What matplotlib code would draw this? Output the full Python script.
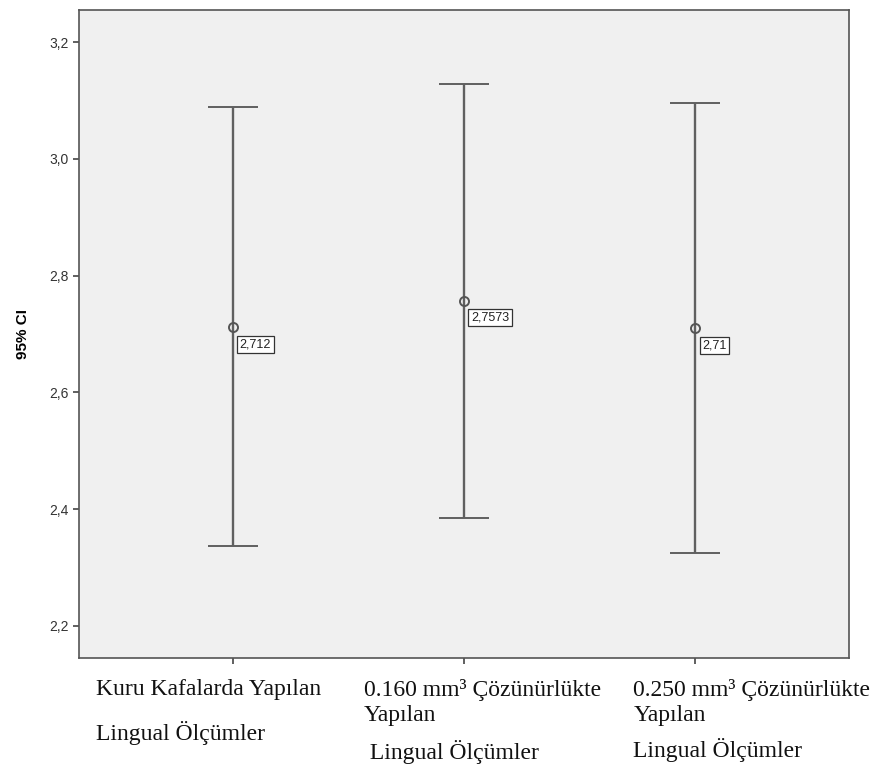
import numpy as np
import matplotlib
matplotlib.use("Agg")
import matplotlib.pyplot as plt
from matplotlib.transforms import blended_transform_factory, offset_copy

# Veriler (ortalama ve %95 GA sınırları)
gruplar = [
    ["Kuru Kafalarda Yapılan", "Lingual Ölçümler"],
    ["0.160 mm³ Çözünürlükte", "Yapılan", " Lingual Ölçümler"],
    ["0.250 mm³ Çözünürlükte", "Yapılan", "Lingual Ölçümler"],
]
ortalama = [2.712, 2.7573, 2.71]
etiketler = ["2,712", "2,7573", "2,71"]
alt_sinir = [2.337, 2.385, 2.325]
ust_sinir = [3.088, 3.129, 3.095]
y_ticks = [2.2, 2.4, 2.6, 2.8, 3.0, 3.2]
y_tick_labels = ["2,2", "2,4", "2,6", "2,8", "3,0", "3,2"]

fig = plt.figure(figsize=(8.8, 7.7), dpi=100)
ax = fig.add_axes([79/880, 1-658/770, 770/880, 648/770])
ax.set_facecolor("#f0f0f0")

x = np.arange(len(ortalama))
m = np.array(ortalama)
yerr = [m - np.array(alt_sinir), np.array(ust_sinir) - m]
ax.errorbar(x, m, yerr=yerr, fmt="o", color="#555555", ecolor="#606060",
            elinewidth=1.7, capsize=18, capthick=1.7, markersize=6.5,
            markerfacecolor="none", markeredgewidth=1.4)

for xi, yi, lab in zip(x, m, etiketler):
    ax.annotate(lab, (xi, yi), xytext=(5, -8), textcoords="offset points",
                ha="left", va="top", fontsize=9, family="Liberation Sans",
                color="#222222",
                bbox=dict(boxstyle="square,pad=0.2", fc="white", ec="#333333", lw=0.9))

ax.set_xlim(-0.665, 2.665)
ax.set_ylim(2.145, 3.255)
ax.set_yticks(y_ticks)
ax.set_yticklabels(y_tick_labels, fontsize=10, family="Liberation Sans", color="#333333")
ax.set_xticks(x)
ax.set_xticklabels([])
ax.tick_params(axis="both", direction="out", length=4, width=1.2, color="#444444")
ax.set_ylabel("95% CI", fontsize=11, fontweight="bold", family="Liberation Sans", labelpad=14)
for s in ax.spines.values():
    s.set_color("#555555")
    s.set_linewidth(1.2)

# Kategori etiketleri (sola hizalı, kayık yerleşim)
sol_kayma = [-137, -100, -62]
satir_y = [[690, 733], [690, 716, 752], [690, 716, 750]]
trans = blended_transform_factory(ax.transData, fig.transFigure)
for xi, satirlar, dx, ys in zip(x, gruplar, sol_kayma, satir_y):
    for satir, yp in zip(satirlar, ys):
        t = offset_copy(trans, fig=fig, x=dx, y=0, units="dots")
        ax.text(xi, 1 - yp/770, satir, transform=t, ha="left", va="center",
                fontsize=17, family="Liberation Serif", color="#111111",
                clip_on=False)

fig.savefig("out.png", dpi=100)
